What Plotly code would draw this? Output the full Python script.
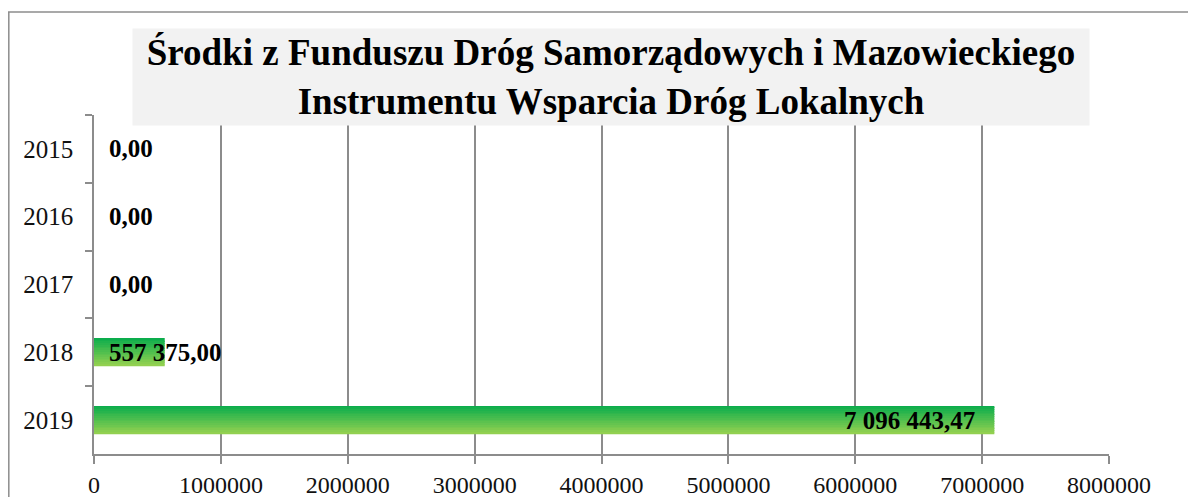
import plotly.graph_objects as go

years = ["2015", "2016", "2017", "2018", "2019"]
values = [0.00, 0.00, 0.00, 557375.00, 7096443.47]
labels = ["0,00", "0,00", "0,00", "557 375,00", "7 096 443,47"]
x_ticks = [0, 1000000, 2000000, 3000000, 4000000, 5000000, 6000000, 7000000, 8000000]
title_text = "Środki z Funduszu Dróg Samorządowych i Mazowieckiego<br>Instrumentu Wsparcia Dróg Lokalnych"

# page body has an 8px default margin
OFF = 8
W, H = 1196 - OFF, 497 - OFF
L, R, T, B = 94 - OFF, 87, 115 - OFF, 43

top_rgb = (12, 173, 76)
bot_rgb = (146, 208, 80)
N = 16
bar_w = 0.41

fig = go.Figure()
for i in range(N):
    f = i / (N - 1)
    c = tuple(int(round(top_rgb[k] + (bot_rgb[k] - top_rgb[k]) * f)) for k in range(3))
    sw = bar_w / N
    fig.add_trace(go.Bar(
        y=years, x=values, orientation="h",
        width=sw * 1.08, offset=-bar_w / 2 + i * sw,
        marker=dict(color="rgb(%d,%d,%d)" % c, line=dict(width=0)),
        showlegend=False, hoverinfo="skip" if i else "x+y",
    ))

font_serif = "Liberation Serif"

annotations = []
for idx, (v, lab) in enumerate(zip(values, labels)):
    if v > 4000000:
        annotations.append(dict(x=v, y=idx, xref="x", yref="y", text="<b>" + lab + "</b>", showarrow=False,
                                xanchor="right", xshift=-17,
                                font=dict(family=font_serif, size=25, color="black")))
    else:
        annotations.append(dict(x=0, y=idx, xref="x", yref="y", text="<b>" + lab + "</b>", showarrow=False,
                                xanchor="left", xshift=13,
                                font=dict(family=font_serif, size=25, color="black")))

pw = W - L - R
ph = H - T - B
annotations.append(dict(
    x=(132 - OFF - L) / pw, y=1 + (T - (28 - OFF)) / ph, xref="paper", yref="paper",
    xanchor="left", yanchor="top", width=954, height=94, bgcolor="#f2f2f2",
    text="<b>" + title_text + "</b>", showarrow=False, align="center", valign="middle",
    font=dict(family=font_serif, size=37, color="black"),
))

x0 = (8 - OFF - L) / pw
y0 = 1 + (T - (12 - OFF)) / ph
shapes = [
    dict(type="line", xref="paper", yref="paper", x0=x0 + 0.0008, x1=x0 + 0.0008, y0=-1, y1=y0,
         line=dict(color="#8c8c8c", width=1.5)),
    dict(type="line", xref="paper", yref="paper", x0=x0, x1=2, y0=y0, y1=y0,
         line=dict(color="#8c8c8c", width=1.5)),
]

fig.update_layout(
    width=W, height=H, barmode="overlay",
    margin=dict(l=L, r=R, t=T, b=B, autoexpand=False),
    paper_bgcolor="white", plot_bgcolor="white",
    annotations=annotations, shapes=shapes,
    xaxis=dict(range=[0, 8000000], tickvals=x_ticks, ticktext=[str(t) for t in x_ticks],
               automargin=False,
               showgrid=True, gridcolor="#8c8c8c", gridwidth=1.5,
               showline=True, linecolor="#8c8c8c", linewidth=1.5,
               ticks="outside", ticklen=8, tickcolor="#8c8c8c", tickwidth=1.5,
               zeroline=False,
               tickfont=dict(family=font_serif, size=24, color="#111")),
    yaxis=dict(type="category", categoryorder="array", categoryarray=years,
               range=[len(years) - 0.5, -0.5], autorange=False,
               automargin=False,
               showline=True, linecolor="#8c8c8c", linewidth=1.5,
               ticks="outside", tickson="boundaries", ticklen=7, tickcolor="#8c8c8c", tickwidth=1.5,
               ticklabelstandoff=14,
               showgrid=False,
               tickfont=dict(family=font_serif, size=25, color="#111")),
)

fig.write_html("out.html")
